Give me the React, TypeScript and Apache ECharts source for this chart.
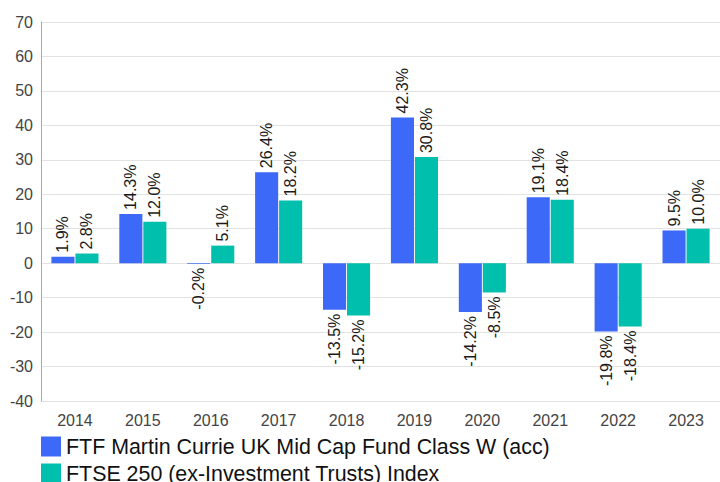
import React, { useEffect, useRef } from "react";
import * as echarts from "echarts";

const categories = ["2014", "2015", "2016", "2017", "2018", "2019", "2020", "2021", "2022", "2023"];
const fundValues = [1.9, 14.3, -0.2, 26.4, -13.5, 42.3, -14.2, 19.1, -19.8, 9.5];
const indexValues = [2.8, 12.0, 5.1, 18.2, -15.2, 30.8, -8.5, 18.4, -18.4, 10.0];
const seriesNames = [
  "FTF Martin Currie UK Mid Cap Fund Class W (acc)",
  "FTSE 250 (ex-Investment Trusts) Index",
];
const colors = ["#3c69f7", "#00bfad"];

function withLabels(values: number[]) {
  return values.map((v) => ({
    value: v,
    label:
      v >= 0
        ? { position: "top", align: "left", verticalAlign: "middle", distance: 4 }
        : { position: "bottom", align: "right", verticalAlign: "middle", distance: 4 },
  }));
}

export default function App() {
  const ref = useRef<HTMLDivElement>(null);
  useEffect(() => {
    if (!ref.current) return;
    const chart = echarts.init(ref.current, null, { renderer: "svg" });
    const labelBase = {
      show: true,
      rotate: 90,
      fontFamily: "Liberation Sans, Arial, sans-serif",
      fontSize: 16,
      color: "#1a1a1a",
      formatter: (p: any) => p.value.toFixed(1) + "%",
    };
    chart.setOption({
      animation: false,
      color: colors,
      grid: { left: 41, right: 0, top: 22, bottom: 81, containLabel: false },
      legend: {
        orient: "vertical",
        left: 41,
        top: 436,
        height: 100,
        padding: 0,
        itemWidth: 20,
        itemHeight: 20,
        itemGap: 6,
        icon: "rect",
        textStyle: { fontFamily: "Liberation Sans, Arial, sans-serif", fontSize: 21.4, color: "#111", lineHeight: 20 },
        data: seriesNames,
      },
      xAxis: {
        type: "category",
        data: categories,
        axisLine: { show: false },
        axisTick: { show: false },
        axisLabel: { fontFamily: "Liberation Sans, Arial, sans-serif", fontSize: 16, color: "#444", margin: 11 },
      },
      yAxis: {
        type: "value",
        min: -40,
        max: 70,
        interval: 10,
        axisLine: { show: true, lineStyle: { color: "#aaa" } },
        axisLabel: { fontFamily: "Liberation Sans, Arial, sans-serif", fontSize: 16, color: "#444", margin: 8 },
        splitLine: { lineStyle: { color: "#e2e2e2" } },
      },
      series: [
        {
          name: seriesNames[0],
          type: "bar",
          data: withLabels(fundValues),
          barWidth: "34%",
          barGap: "4%",
          label: labelBase,
        },
        {
          name: seriesNames[1],
          type: "bar",
          data: withLabels(indexValues),
          barWidth: "34%",
          label: labelBase,
        },
      ],
    });
    return () => chart.dispose();
  }, []);
  return <div ref={ref} style={{ width: 720, height: 482, position: "absolute", left: 0, top: 0 }} />;
}
